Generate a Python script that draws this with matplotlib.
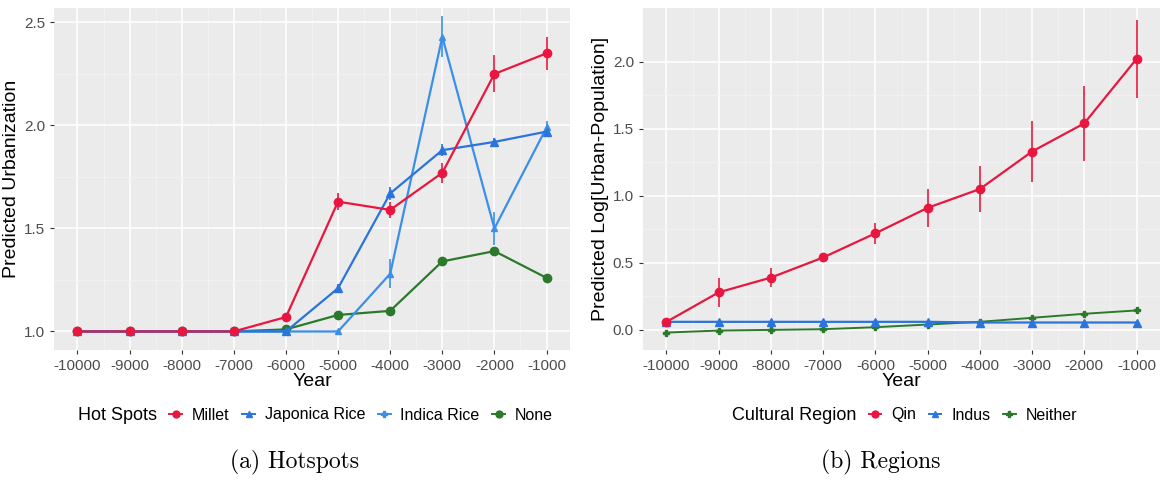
import numpy as np
import matplotlib.pyplot as plt
from matplotlib.lines import Line2D

plt.rcParams['font.family'] = ['Liberation Sans', 'DejaVu Sans']

years = [-10000, -9000, -8000, -7000, -6000, -5000, -4000, -3000, -2000, -1000]

# (a) hotspots
millet = [1.0, 1.0, 1.0, 1.0, 1.07, 1.63, 1.59, 1.77, 2.25, 2.35]
millet_err = [0.0, 0.0, 0.0, 0.0, 0.01, 0.04, 0.04, 0.05, 0.09, 0.08]
japonica = [1.0, 1.0, 1.0, 1.0, 1.0, 1.21, 1.67, 1.88, 1.92, 1.97]
japonica_err = [0.0, 0.0, 0.0, 0.0, 0.0, 0.02, 0.03, 0.03, 0.02, 0.02]
indica = [1.0, 1.0, 1.0, 1.0, 1.0, 1.0, 1.28, 2.43, 1.50, 1.99]
indica_err = [0.0, 0.0, 0.0, 0.0, 0.0, 0.0, 0.07, 0.10, 0.08, 0.03]
none_hs = [1.0, 1.0, 1.0, 1.0, 1.01, 1.08, 1.10, 1.34, 1.39, 1.26]
none_err = [0.0, 0.0, 0.0, 0.0, 0.0, 0.01, 0.01, 0.01, 0.01, 0.01]

# (b) regions
qin = [0.06, 0.28, 0.39, 0.54, 0.72, 0.91, 1.05, 1.33, 1.54, 2.02]
qin_err = [0.01, 0.11, 0.07, 0.03, 0.08, 0.14, 0.17, 0.23, 0.28, 0.29]
indus = [0.06, 0.06, 0.06, 0.06, 0.06, 0.06, 0.055, 0.055, 0.055, 0.055]
indus_err = [0.005, 0.005, 0.005, 0.005, 0.005, 0.005, 0.005, 0.005, 0.005, 0.005]
neither = [-0.02, -0.005, 0.0, 0.005, 0.02, 0.04, 0.06, 0.09, 0.12, 0.145]
neither_err = [0.005, 0.005, 0.005, 0.005, 0.005, 0.005, 0.01, 0.01, 0.015, 0.02]

RED = "#e8173f"
BLUE = "#2a74dc"
BLUE2 = "#3b8fe8"
GREEN = "#2b7a2b"

fig = plt.figure(figsize=(11.65, 4.83), dpi=100)
W, H = 1165, 483
axL = fig.add_axes([54 / W, (483 - 350) / H, (570 - 54) / W, (350 - 8) / H])
axR = fig.add_axes([643 / W, (483 - 350) / H, (1160 - 643) / W, (350 - 8) / H])

def style(ax, ylabel):
    ax.set_facecolor("#ebebeb")
    for s in ax.spines.values():
        s.set_visible(False)
    ax.set_axisbelow(True)
    ax.grid(True, which="major", color="white", lw=1.1)
    ax.grid(True, which="minor", color="#f4f4f4", lw=0.5)
    ax.set_xticks(years)
    ax.set_xticklabels([str(y) for y in years])
    ax.set_xticks(np.array(years[:-1]) + 500, minor=True)
    ax.tick_params(which="major", colors="#333333", labelcolor="#4d4d4d", labelsize=11, length=3)
    ax.tick_params(which="minor", length=0)
    ax.set_xlim(-10450, -550)
    ax.set_xlabel("Year", fontsize=14, labelpad=0)
    ax.set_ylabel(ylabel, fontsize=14, labelpad=3)

def series(ax, y, err, color, marker, ms, lw=1.6):
    ax.errorbar(years, y, yerr=err, color=color, marker=marker, ms=ms, lw=lw,
                elinewidth=1.2, capsize=0)

series(axL, none_hs, none_err, GREEN, "o", 6)
series(axL, indica, indica_err, BLUE2, "^", 5)
series(axL, japonica, japonica_err, BLUE, "^", 6)
series(axL, millet, millet_err, RED, "o", 6)
style(axL, "Predicted Urbanization")
axL.set_ylim(0.91, 2.57)
axL.set_yticks([1.0, 1.5, 2.0, 2.5])
axL.set_yticks([1.25, 1.75, 2.25], minor=True)
axL.set_yticklabels(["1.0", "1.5", "2.0", "2.5"])

series(axR, neither, neither_err, GREEN, "P", 4, lw=1.4)
series(axR, indus, indus_err, BLUE, "^", 6)
series(axR, qin, qin_err, RED, "o", 6)
style(axR, "Predicted Log[Urban-Population]")
axR.set_ylim(-0.15, 2.40)
axR.set_yticks([0.0, 0.5, 1.0, 1.5, 2.0])
axR.set_yticks([0.25, 0.75, 1.25, 1.75], minor=True)
axR.set_yticklabels(["0.0", "0.5", "1.0", "1.5", "2.0"])

def legend(title, labels, colors, markers, cx):
    handles = [Line2D([], [], ls="none")]
    for c, m in zip(colors, markers):
        handles.append(Line2D([], [], color=c, marker=m, ms=5, lw=1.4))
    leg = fig.legend(handles, [title] + labels, loc="center", ncol=len(handles),
                     bbox_to_anchor=(cx / W, 1 - 415 / H), frameon=False,
                     fontsize=11.5, handlelength=0.8, handletextpad=0.6,
                     columnspacing=0.8)
    leg.get_texts()[0].set_fontsize(13)
    return leg

legend("Hot Spots", ["Millet", "Japonica Rice", "Indica Rice", "None"],
       [RED, BLUE, BLUE2, GREEN], ["o", "^", "P", "o"], 304)
legend("Cultural Region", ["Qin", "Indus", "Neither"],
       [RED, BLUE, GREEN], ["o", "^", "P"], 893)

fig.text(294 / W, 1 - 462 / H, "(a) Hotspots", ha="center", va="center",
         fontsize=17, family="cmr10")
fig.text(881 / W, 1 - 462 / H, "(b) Regions", ha="center", va="center",
         fontsize=17, family="cmr10")

fig.savefig("out.png", dpi=100)
